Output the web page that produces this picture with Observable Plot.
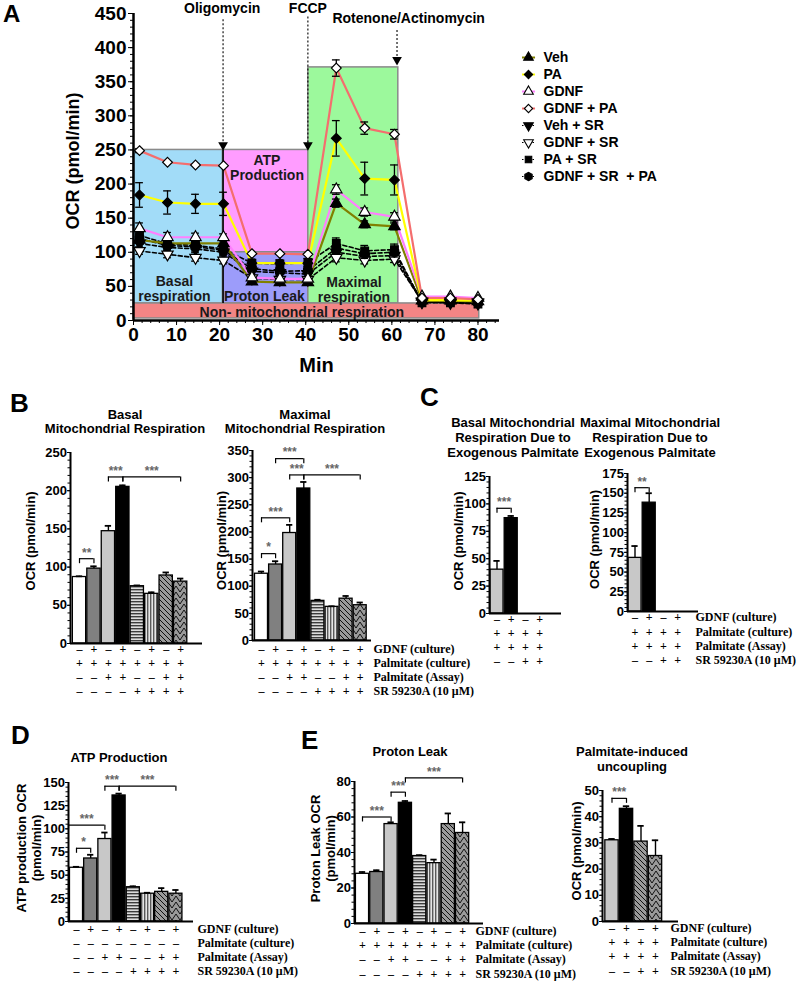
<!DOCTYPE html>
<html>
<head>
<meta charset="utf-8">
<script src="https://cdn.jsdelivr.net/npm/d3@7"></script>
<script src="https://cdn.jsdelivr.net/npm/@observablehq/plot@0.6"></script>
<style>
html,body{margin:0;padding:0;background:#fff;}
#root{position:relative;width:800px;height:981px;overflow:hidden;background:#fff;font-family:"Liberation Sans",Arial,sans-serif;}
.txt{position:absolute;font-weight:bold;white-space:nowrap;color:#000;}
</style>
</head>
<body>
<svg width="0" height="0" style="position:absolute">
  <defs>
    <pattern id="hstripe" width="4" height="3" patternUnits="userSpaceOnUse">
      <rect width="4" height="3" fill="#dcdcdc"/><rect width="4" height="1.4" fill="#3c3c3c"/>
    </pattern>
    <pattern id="vstripe" width="3" height="4" patternUnits="userSpaceOnUse">
      <rect width="3" height="4" fill="#e6e6e6"/><rect width="1.4" height="4" fill="#5a5a5a"/>
    </pattern>
    <pattern id="diag" width="5" height="5" patternUnits="userSpaceOnUse">
      <rect width="5" height="5" fill="#9a9a9a"/><path d="M-1,-1L6,6M-1,4L1,6M4,-1L6,1" stroke="#000" stroke-width="0.9"/>
    </pattern>
    <pattern id="chev" width="8" height="6" patternUnits="userSpaceOnUse">
      <rect width="8" height="6" fill="#9a9a9a"/><path d="M0,0L4,6L8,0" stroke="#000" stroke-width="0.9" fill="none"/>
    </pattern>
  </defs>
</svg>
<div id="root"></div>
<script>
// ================= DATA =================
// Panel A: Seahorse OCR time course
const minutes = [1.4, 7.9, 14.4, 20.9, 27.5, 34, 40.5, 47.1, 53.7, 60.6, 67, 73.6, 80];
const seriesNames = ["Veh", "PA", "GDNF", "GDNF + PA", "Veh + SR", "GDNF + SR", "PA + SR", "GDNF + SR  + PA"];
const ocrVeh      = [118, 113, 113, 113, 57, 56, 56, 172, 141, 138, 29, 29, 28];
const ocrPA       = [184, 173, 171, 171, 84, 84, 84, 267, 208, 206, 30, 30, 29];
const ocrGDNF     = [135, 122, 122, 122, 63, 61, 61, 192, 159, 152, 35, 35, 33];
const ocrGDNFPA   = [249, 232, 228, 227, 98, 98, 97, 370, 282, 273, 33, 33, 31];
const ocrVehSR    = [113, 107, 105, 100, 72, 70, 68, 100, 94, 95, 27, 26, 25];
const ocrGDNFSR   = [102, 97, 92, 88, 62, 60, 60, 92, 88, 90, 28, 28, 27];
const ocrPASR     = [125, 112, 110, 105, 84, 83, 85, 113, 102, 104, 26, 26, 24];
const ocrGDNFSRPA = [120, 110, 108, 103, 76, 72, 73, 106, 98, 100, 28, 27, 26];
const errVeh      = [5, 4, 4, 4, 2, 2, 2, 6, 5, 5, 1, 1, 1];
const errPA       = [18, 17, 14, 17, 2, 2, 2, 26, 24, 22, 1, 1, 1];
const errGDNF     = [8, 7, 6, 5, 2, 2, 2, 7, 6, 6, 1, 1, 1];
const errGDNFPA   = [3, 2, 2, 2, 2, 2, 2, 12, 9, 7, 1, 1, 1];
const errVehSR    = [5, 5, 5, 5, 4, 4, 4, 6, 5, 5, 1, 1, 1];
const errGDNFSR   = [5, 5, 5, 5, 4, 4, 4, 6, 5, 5, 1, 1, 1];
const errPASR     = [7, 6, 6, 6, 6, 6, 6, 8, 8, 8, 1, 1, 1];
const errGDNFSRPA = [6, 6, 6, 6, 5, 5, 5, 7, 7, 7, 1, 1, 1];

const regionNames = ["Basal respiration", "ATP Production", "Proton Leak", "Maximal respiration", "Non-mitochondrial respiration"];
const regionX1 = [0, 20.8, 20.8, 40.6, 0];
const regionX2 = [20.8, 40.6, 40.6, 61.5, 80.3];
const regionY1 = [25, 100, 25, 25, 3];
const regionY2 = [250, 250, 100, 371, 25];
const regionLabelText = ["Basal\nrespiration", "ATP\nProduction", "Proton Leak", "Maximal\nrespiration", "Non- mitochondrial respiration"];
const regionLabelX = [9.5, 31, 30.4, 51.2, 39.1];
const regionLabelY = [47, 224, 35, 45, 12];

const injectionNames = ["Oligomycin", "FCCP", "Rotenone/Actinomycin"];
const injectionX = [20.8, 40.5, 61.2];
const injectionTop = [441, 445, 425];
const injectionHead = [257, 257, 382];
const injectionLabelX = [20.6, 40.5, 63.9];
const injectionLabelY = [458, 458, 443];

// Bar panels
const treatmentLabels = ["GDNF (culture)", "Palmitate (culture)", "Palmitate (Assay)", "SR 59230A (10 \u03bcM)"];
const signsFull = ["-+-+-+-+", "++++++++", "--++--++", "----++++"];
const signsATP  = ["-+-+-+-+", "--------", "--++--++", "----++++"];
const signsFour = ["-+-+", "++++", "++++", "--++"];

const basalValues = [87, 98, 147, 205, 75, 65, 89, 81];
const basalErrors = [1, 3, 7, 2, 1, 2, 4, 4];
const basalBrackets = [{a: 0, b: 1, y: 111, label: "**"}, {a: 2, b: 3, y: 218, label: "***"}, {a: 3, b: 7, y: 218, label: "***"}];

const maximalValues = [123, 140, 198, 280, 73, 62, 77, 65];
const maximalErrors = [4, 6, 15, 12, 2, 1, 5, 5];
const maximalBrackets = [{a: 0, b: 1, y: 160, label: "*"}, {a: 0, b: 2, y: 226, label: "***"}, {a: 1, b: 3, y: 335, label: "***"}, {a: 2, b: 3, y: 305, label: "***"}, {a: 3, b: 7, y: 305, label: "***"}];

const exoBasalValues = [40, 87];
const exoBasalErrors = [8, 2];
const exoBasalBrackets = [{a: 0, b: 1, y: 96, label: "***"}];

const exoMaxValues = [68, 138];
const exoMaxErrors = [15, 12];
const exoMaxBrackets = [{a: 0, b: 1, y: 157, label: "**"}];

const atpValues = [58, 68, 89, 136, 37, 30, 32, 30];
const atpErrors = [1, 4, 7, 2, 1, 1, 4, 4];
const atpBrackets = [{a: 0, b: 1, y: 79, label: "*"}, {a: "axis", b: 2, y: 104, label: "***"}, {a: 2, b: 3, y: 146, label: "***"}, {a: 3, b: 7, y: 146, label: "***"}];

const leakValues = [28, 29, 56, 68, 38, 34, 56, 51];
const leakErrors = [1, 1, 1, 1, 0.5, 2, 6, 6];
const leakBrackets = [{a: 0, b: 2, y: 60, label: "***"}, {a: 2, b: 3, y: 74, label: "***"}, {a: 3, b: 7, y: 82, label: "***"}];

const uncoupValues = [31, 43, 30.5, 25];
const uncoupErrors = [0.5, 1, 6, 6];
const uncoupBrackets = [{a: 0, b: 1, y: 47, label: "***"}];

// ================= STYLES =================
const FONT = '"Liberation Sans", Arial, Helvetica, sans-serif';
const SERIF = '"Liberation Serif", "Times New Roman", serif';
const regionFills = ["#a2dcf8", "#ff9cff", "#9c9cfa", "#9cf99c", "#f38585"];
const seriesStyles = [
  {stroke: "#808000", symbol: "triangle", fill: "#000", rotate: 0, dash: null, r: 4.2},
  {stroke: "#ffff00", symbol: "diamond2", fill: "#000", rotate: 0, dash: null, r: 4.4},
  {stroke: "#ff80ff", symbol: "triangle", fill: "#fff", rotate: 0, dash: null, r: 4.2},
  {stroke: "#f46e6e", symbol: "diamond2", fill: "#fff", rotate: 0, dash: null, r: 4.4},
  {stroke: "#000", symbol: "triangle", fill: "#000", rotate: 180, dash: "4,2.5", r: 4.2},
  {stroke: "#000", symbol: "triangle", fill: "#fff", rotate: 180, dash: "4,2.5", r: 4.2},
  {stroke: "#000", symbol: "square", fill: "#000", rotate: 0, dash: "4,2.5", r: 4.3},
  {stroke: "#000", symbol: "hexagon", fill: "#000", rotate: 0, dash: "4,2.5", r: 4.3}
];
const fillsFull = ["#ffffff", "#808080", "#c8c8c8", "#000000", "url(#hstripe)", "url(#vstripe)", "url(#diag)", "url(#chev)"];
const fillsTwo = ["#c8c8c8", "#000000"];
const fillsFour = ["#c8c8c8", "#000000", "url(#diag)", "url(#chev)"];
const baseStyle = {background: "transparent", fontFamily: FONT, fontWeight: "bold", color: "#000", overflow: "visible"};

const root = document.getElementById("root");
function put(node, left, top) {
  node.style.position = "absolute";
  node.style.left = left + "px";
  node.style.top = top + "px";
  root.appendChild(node);
  return node;
}
function htmlText(lines, cx, firstCenter, size, lh) {
  const div = document.createElement("div");
  div.className = "txt";
  div.style.fontSize = size + "px";
  div.style.lineHeight = lh + "px";
  div.style.textAlign = "center";
  div.style.transform = "translateX(-50%)";
  lines.forEach((l, i) => { if (i) div.appendChild(document.createElement("br")); div.appendChild(document.createTextNode(l)); });
  put(div, cx, firstCenter - lh / 2);
}
function letter(ch, left, capTop, size) {
  const div = document.createElement("div");
  div.className = "txt";
  div.style.fontSize = size + "px";
  div.style.lineHeight = size + "px";
  div.textContent = ch;
  put(div, left, capTop - size * 0.13);
}

// ================= PANEL A =================
const seriesValues = [ocrVeh, ocrPA, ocrGDNF, ocrGDNFPA, ocrVehSR, ocrGDNFSR, ocrPASR, ocrGDNFSRPA];
const seriesErrors = [errVeh, errPA, errGDNF, errGDNFPA, errVehSR, errGDNFSR, errPASR, errGDNFSRPA];
const regions = regionNames.map((name, i) => ({name, x1: regionX1[i], x2: regionX2[i], y1: regionY1[i], y2: regionY2[i], fill: regionFills[i]}));
const regionLabels = regionLabelText.map((text, i) => ({text, x: regionLabelX[i], y: regionLabelY[i]}));
const injections = injectionNames.map((name, i) => ({name, x: injectionX[i], top: injectionTop[i], head: injectionHead[i], lx: injectionLabelX[i], ly: injectionLabelY[i]}));
const seriesRows = seriesNames.map((name, k) => minutes.map((t, j) => ({t, v: seriesValues[k][j], e: seriesErrors[k][j]})));
const drawOrder = [4, 5, 6, 7, 0, 2, 1, 3];

const aMarks = [
  Plot.rect(regions, {x1: "x1", x2: "x2", y1: "y1", y2: "y2", fill: "fill", stroke: "#8a8a8a", strokeWidth: 1.5}),
  Plot.ruleX([regions[0]], {x: "x2", y1: "y1", y2: "y2", stroke: "#000", strokeWidth: 1.6}),
  Plot.text(regionLabels, {x: "x", y: "y", text: "text", fontSize: 14, lineHeight: 1.08, fill: "#1a1a1a"}),
  Plot.ruleX(injections, {x: "x", y1: "top", y2: "head", stroke: "#000", strokeWidth: 1.1, strokeDasharray: "2,2"}),
  Plot.dot(injections, {x: "x", y: "head", symbol: "triangle", rotate: 180, r: 3.6, fill: "#000", stroke: "none"}),
  Plot.text(injections, {x: "lx", y: "ly", text: "name", fontSize: 14})
];
for (const k of drawOrder) {
  const st = seriesStyles[k];
  const opts = {x: "t", y: "v", stroke: st.stroke, strokeWidth: st.dash ? 1.6 : 2.2};
  if (st.dash) opts.strokeDasharray = st.dash;
  aMarks.push(Plot.line(seriesRows[k], opts));
}
for (const k of drawOrder) {
  const st = seriesStyles[k];
  const withErr = seriesRows[k].filter(d => d.e >= 3);
  aMarks.push(
    Plot.ruleX(withErr, {x: "t", y1: d => d.v - d.e, y2: d => d.v + d.e, stroke: "#000", strokeWidth: 1.3}),
    Plot.ruleY(withErr.flatMap(d => [{t: d.t, y: d.v - d.e}, {t: d.t, y: d.v + d.e}]), {y: "y", x1: d => d.t - 0.9, x2: d => d.t + 0.9, stroke: "#000", strokeWidth: 1.3}),
    Plot.dot(seriesRows[k], {x: "t", y: "v", symbol: st.symbol, rotate: st.rotate, r: st.r, fill: st.fill, stroke: "#000", strokeWidth: 1.2})
  );
}
aMarks.push(
  Plot.ruleX([0], {y1: 0, y2: 450, stroke: "#000", strokeWidth: 2.5}),
  Plot.ruleY([0], {x1: 0, x2: 85, stroke: "#000", strokeWidth: 2.5}),
  Plot.axisY({ticks: d3.range(0, 451, 10), tickSize: 3, tickFormat: () => "", label: null}),
  Plot.axisY({ticks: d3.range(0, 451, 50), tickSize: 5, tickPadding: 2, label: null, fontSize: 19}),
  Plot.axisX({ticks: d3.range(0, 85, 2), tickSize: 3, tickFormat: () => "", label: null}),
  Plot.axisX({ticks: d3.range(0, 81, 10), tickSize: 5, tickPadding: 2, label: null, fontSize: 19}),
  Plot.text(["Min"], {text: d => d, frameAnchor: "bottom", lineAnchor: "middle", textAnchor: "middle", dy: 45, fontSize: 20}),
  Plot.text(["OCR (pmol/min)"], {text: d => d, frameAnchor: "left", textAnchor: "middle", lineAnchor: "middle", dx: -60, dy: -6, rotate: -90, fontSize: 18})
);
put(Plot.plot({
  width: 800, height: 380,
  marginLeft: 133, marginRight: 301, marginTop: 13, marginBottom: 60,
  x: {domain: [0, 85], label: null},
  y: {domain: [0, 450], label: null},
  color: {type: "identity"},
  style: {...baseStyle, fontSize: "19px"},
  marks: aMarks
}), 0, 0);

// Legend for panel A
const legendMarks = [];
seriesNames.forEach((name, k) => {
  const st = seriesStyles[k];
  const ro = {y: d => d, x1: -0.4, x2: 0.47, stroke: st.stroke, strokeWidth: st.dash ? 1.2 : 2};
  if (st.dash) ro.strokeDasharray = "1.5,2";
  legendMarks.push(Plot.ruleY([name], ro));
  legendMarks.push(Plot.dot([name], {x: 0, y: d => d, symbol: st.symbol, rotate: st.rotate, r: st.r * 0.85, fill: st.fill, stroke: "#000", strokeWidth: 1.1}));
});
legendMarks.push(Plot.text(seriesNames, {x: 1, y: d => d, text: d => d, textAnchor: "start", fontSize: 14}));
put(Plot.plot({
  width: 200, height: 165, margin: 0,
  x: {domain: [0, 1], range: [23, 38], axis: null},
  y: {type: "point", domain: seriesNames, range: [10, 152], axis: null},
  style: {...baseStyle, fontSize: "14px"},
  marks: legendMarks
}), 505, 35);

// ================= BAR CHARTS =================
function barChart(cfg) {
  const bars = cfg.values.map((v, i) => ({i, v, e: cfg.errors[i], fill: cfg.fills[i]}));
  const d0 = (cfg.axisX - cfg.c0) / cfg.step;
  const d1 = (cfg.axisRight - cfg.c0) / cfg.step;
  const unit = cfg.yMax / (cfg.yBottom - cfg.yTop);
  const drop = 5 * unit;
  const hw = 0.46;
  const withErr = bars.filter(d => d.e > 0);
  const brk = cfg.brackets.map(b => ({...b, a: b.a === "axis" ? d0 : b.a}));
  const marks = [
    Plot.rect(bars, {x1: d => d.i - hw, x2: d => d.i + hw, y1: 0, y2: "v", fill: "fill", stroke: "#000", strokeWidth: 1.3}),
    Plot.ruleX(withErr, {x: "i", y1: "v", y2: d => d.v + d.e, stroke: "#000", strokeWidth: 1.4}),
    Plot.ruleY(withErr, {y: d => d.v + d.e, x1: d => d.i - 0.22, x2: d => d.i + 0.22, stroke: "#000", strokeWidth: 1.8}),
    Plot.ruleX([d0], {y1: 0, y2: cfg.yMax, stroke: "#000", strokeWidth: 2}),
    Plot.ruleY([0], {x1: d0, x2: d1, stroke: "#000", strokeWidth: 2}),
    Plot.axisY({ticks: d3.range(0, cfg.yMax + 1e-9, cfg.minor), tickSize: 2.5, tickFormat: () => "", label: null}),
    Plot.axisY({ticks: d3.range(0, cfg.yMax + 1e-9, cfg.major), tickSize: 3, tickPadding: 0.5, label: null, fontSize: 13}),
    Plot.ruleY(brk, {y: "y", x1: "a", x2: "b", stroke: "#000", strokeWidth: 1.2}),
    Plot.ruleX(brk.flatMap(d => [{x: d.a, y: d.y}, {x: d.b, y: d.y}]), {x: "x", y1: "y", y2: d => d.y - drop, stroke: "#000", strokeWidth: 1.2}),
    Plot.text(brk, {x: d => (d.a + d.b) / 2, y: "y", text: "label", dy: -6, fill: "#666", fontSize: 12}),
    Plot.text([cfg.ylabel], {text: d => d, frameAnchor: "left", textAnchor: "middle", lineAnchor: "middle", dx: cfg.ylabelDX, dy: cfg.ylabelDY, rotate: -90, fontSize: 13, lineHeight: 1.2})
  ];
  cfg.signs.forEach((row, r) => {
    const cells = Array.from(row, (c, i) => ({i, c: c === "+" ? "+" : "\u2013"}));
    const dy = cfg.signRowY[r] - cfg.yBottom;
    marks.push(Plot.text(cells, {x: "i", y: 0, text: "c", dy, fontFamily: SERIF, fontSize: 12, fill: "#000"}));
    if (cfg.labels) {
      marks.push(Plot.text([cfg.labels[r]], {text: d => d, x: (cfg.labelPx - cfg.c0) / cfg.step, y: 0, dy, textAnchor: "start", fontFamily: SERIF, fontSize: 12, fill: "#000"}));
    }
  });
  const H = cfg.svgHeight;
  put(Plot.plot({
    width: 800, height: H,
    marginLeft: cfg.axisX, marginRight: 800 - cfg.axisRight,
    marginTop: cfg.yTop - cfg.svgTop, marginBottom: cfg.svgTop + H - cfg.yBottom,
    x: {domain: [d0, d1], axis: null, label: null},
    y: {domain: [0, cfg.yMax], label: null},
    color: {type: "identity"},
    style: {...baseStyle, fontSize: "13px"},
    marks
  }), 0, cfg.svgTop);
}

barChart({values: basalValues, errors: basalErrors, fills: fillsFull, brackets: basalBrackets, signs: signsFull, labels: null,
  svgTop: 430, svgHeight: 275, axisX: 70, axisRight: 202, c0: 79, step: 14.45, yTop: 452, yBottom: 643, yMax: 250, major: 50, minor: 10,
  signRowY: [649, 663, 677, 691], ylabel: "OCR (pmol/min)", ylabelDX: -41, ylabelDY: -7});
barChart({values: maximalValues, errors: maximalErrors, fills: fillsFull, brackets: maximalBrackets, signs: signsFull, labels: treatmentLabels, labelPx: 373,
  svgTop: 430, svgHeight: 275, axisX: 252, axisRight: 371, c0: 261, step: 14.1, yTop: 450, yBottom: 640, yMax: 350, major: 50, minor: 10,
  signRowY: [649, 663, 677, 691], ylabel: "OCR (pmol/min)", ylabelDX: -32, ylabelDY: -5});
barChart({values: exoBasalValues, errors: exoBasalErrors, fills: fillsTwo, brackets: exoBasalBrackets, signs: signsFour, labels: null,
  svgTop: 460, svgHeight: 215, axisX: 489, axisRight: 561, c0: 496.5, step: 14.2, yTop: 476, yBottom: 613, yMax: 125, major: 25, minor: 5,
  signRowY: [619, 633, 647, 661], ylabel: "OCR (pmol/min)", ylabelDX: -32, ylabelDY: -4});
barChart({values: exoMaxValues, errors: exoMaxErrors, fills: fillsTwo, brackets: exoMaxBrackets, signs: signsFour, labels: treatmentLabels, labelPx: 695,
  svgTop: 455, svgHeight: 220, axisX: 627, axisRight: 698, c0: 634.5, step: 14.2, yTop: 473, yBottom: 611, yMax: 175, major: 25, minor: 5,
  signRowY: [617, 632, 646, 660], ylabel: "OCR (pmol/min)", ylabelDX: -34, ylabelDY: -3});
barChart({values: atpValues, errors: atpErrors, fills: fillsFull, brackets: atpBrackets, signs: signsATP, labels: treatmentLabels, labelPx: 197,
  svgTop: 770, svgHeight: 211, axisX: 68, axisRight: 193, c0: 76, step: 14.2, yTop: 782, yBottom: 921, yMax: 150, major: 25, minor: 5,
  signRowY: [929, 943, 957, 971], ylabel: "ATP production OCR\n(pmol/min)", ylabelDX: -40, ylabelDY: -4});
barChart({values: leakValues, errors: leakErrors, fills: fillsFull, brackets: leakBrackets, signs: signsFull, labels: treatmentLabels, labelPx: 475,
  svgTop: 765, svgHeight: 216, axisX: 354, axisRight: 483, c0: 362, step: 14.3, yTop: 781, yBottom: 923, yMax: 80, major: 20, minor: 4,
  signRowY: [931, 945, 959, 974], ylabel: "Proton Leak OCR\n(pmol/min)", ylabelDX: -32, ylabelDY: -4});
barChart({values: uncoupValues, errors: uncoupErrors, fills: fillsFour, brackets: uncoupBrackets, signs: signsFour, labels: treatmentLabels, labelPx: 670,
  svgTop: 775, svgHeight: 206, axisX: 602, axisRight: 678, c0: 611.5, step: 14.5, yTop: 790, yBottom: 921, yMax: 50, major: 10, minor: 2,
  signRowY: [928, 942, 956, 971], ylabel: "OCR (pmol/min)", ylabelDX: -27, ylabelDY: -5});

// ================= TITLES & PANEL LETTERS =================
htmlText(["Basal", "Mitochondrial Respiration"], 125, 415, 13, 14.5);
htmlText(["Maximal", "Mitochondrial Respiration"], 305, 415, 13, 14.5);
htmlText(["Basal Mitochondrial", "Respiration Due to", "Exogenous Palmitate"], 513, 422, 13, 15);
htmlText(["Maximal Mitochondrial", "Respiration Due to", "Exogenous Palmitate"], 650, 422, 13, 15);
htmlText(["ATP Production"], 119, 757, 13, 15);
htmlText(["Proton Leak"], 410, 751, 13, 15);
htmlText(["Palmitate-induced", "uncoupling"], 632, 751, 13, 15);
letter("A", 3, 5, 24);
letter("B", 10, 393, 26);
letter("C", 420, 387, 26);
letter("D", 11, 725, 26);
letter("E", 301, 730, 26);
</script>
</body>
</html>
